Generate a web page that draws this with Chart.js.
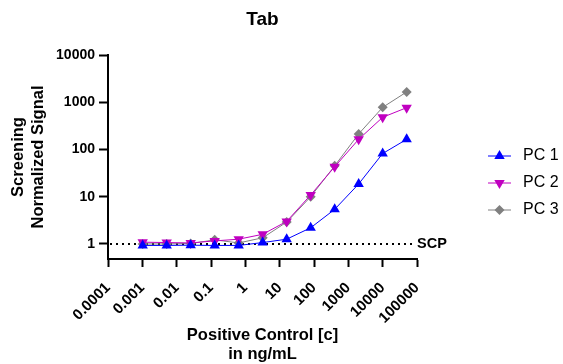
<!DOCTYPE html>
<html><head><meta charset="utf-8">
<script src="https://cdn.jsdelivr.net/npm/chart.js@4.4.1/dist/chart.umd.min.js"></script>
<style>html,body{margin:0;padding:0;background:#fff}canvas{display:block}</style>
</head><body>
<canvas id="c" width="563" height="364"></canvas>
<script>
const doses = [0.001024, 0.00512, 0.0256, 0.128, 0.64, 3.2, 16, 80, 400, 2000, 10000, 50000];
const pc1 = [0.93, 0.93, 0.94, 0.93, 0.93, 1.07, 1.26, 2.2, 5.4, 18.6, 82, 164];
const pc2 = [1.09, 1.07, 1.05, 1.16, 1.26, 1.6, 3.0, 10.9, 43, 164, 480, 767];
const pc3 = [1.0, 1.0, 1.02, 1.22, 1.05, 1.35, 2.9, 10, 45, 213, 780, 1650];
const seriesNames = ['PC 1', 'PC 2', 'PC 3'];
const xTicks = [0.0001, 0.001, 0.01, 0.1, 1, 10, 100, 1000, 10000, 100000];
const yTicks = [1, 10, 100, 1000, 10000];
const scpValue = 1;
const scpLabel = 'SCP';
const titleText = 'Tab';
const xTitle = ['Positive Control [c]', 'in ng/mL'];
const yTitle = ['Screening', 'Normalized Signal'];

const FONT = "'Liberation Sans', Arial, sans-serif";
const styles = [
  {color: '#0000FF', pointStyle: 'triangle', rotation: 0, radius: 6},
  {color: '#C000C0', pointStyle: 'triangle', rotation: 180, radius: 6},
  {color: '#808080', pointStyle: 'rectRot', rotation: 0, radius: 5}
];
const seriesValues = [pc1, pc2, pc3];

const datasets = seriesValues.map((vals, i) => ({
  label: seriesNames[i],
  data: doses.map((d, j) => ({x: d, y: vals[j]})),
  showLine: true,
  borderColor: styles[i].color,
  backgroundColor: styles[i].color,
  borderWidth: 1,
  pointStyle: styles[i].pointStyle,
  pointRotation: styles[i].rotation,
  pointRadius: styles[i].radius,
  pointHoverRadius: styles[i].radius,
  pointBorderWidth: 0,
  tension: 0
}));

const custom = {
  id: 'custom',
  beforeDatasetsDraw(chart) {
    const ctx = chart.ctx, a = chart.chartArea;
    const y = chart.scales.y.getPixelForValue(scpValue);
    ctx.save();
    ctx.strokeStyle = '#000';
    ctx.lineWidth = 2;
    ctx.setLineDash([2, 4]);
    ctx.beginPath();
    ctx.moveTo(a.left + 2, y);
    ctx.lineTo(a.right - 4, y);
    ctx.stroke();
    ctx.restore();
  },
  afterDraw(chart) {
    const ctx = chart.ctx, a = chart.chartArea;
    ctx.save();
    ctx.fillStyle = '#000';
    ctx.font = "bold 19px " + FONT;
    ctx.textAlign = 'center';
    ctx.textBaseline = 'middle';
    ctx.fillText(titleText, (a.left + a.right) / 2, 20);
    const y = chart.scales.y.getPixelForValue(scpValue);
    ctx.font = "bold 14.5px " + FONT;
    ctx.textAlign = 'left';
    ctx.fillText(scpLabel, a.right, y);
    chart.data.datasets.forEach((ds, i) => {
      const ly = 156 + i * 27;
      ctx.strokeStyle = ds.borderColor;
      ctx.fillStyle = ds.backgroundColor;
      ctx.lineWidth = 1;
      ctx.setLineDash([]);
      ctx.beginPath();
      ctx.moveTo(488, ly);
      ctx.lineTo(511, ly);
      ctx.stroke();
      Chart.helpers.drawPoint(ctx, {pointStyle: ds.pointStyle, rotation: ds.pointRotation, radius: ds.pointRadius, borderWidth: 0}, 499.5, ly);
      ctx.fillStyle = '#000';
      ctx.font = "16px " + FONT;
      ctx.textAlign = 'left';
      ctx.textBaseline = 'middle';
      ctx.fillText(ds.label, 523, ly);
    });
    ctx.restore();
  }
};

new Chart(document.getElementById('c'), {
  type: 'scatter',
  data: {datasets},
  options: {
    responsive: false,
    animation: false,
    devicePixelRatio: 1,
    layout: {padding: {left: 0, right: 146, top: 55, bottom: 0}},
    plugins: {legend: {display: false}, title: {display: false}, tooltip: {enabled: false}},
    scales: {
      x: {
        type: 'logarithmic',
        min: 0.0001, max: 100000,
        afterBuildTicks: s => { s.ticks = xTicks.map(v => ({value: v})); },
        afterFit: s => { s.height = 105; },
        ticks: {
          autoSkip: false, maxRotation: 45, minRotation: 45, padding: 12,
          color: '#000', font: {family: FONT, size: 15, weight: 'bold'},
          callback: v => String(v)
        },
        grid: {drawOnChartArea: false, drawTicks: true, tickLength: 8, tickWidth: 2, tickColor: '#000', color: '#000'},
        border: {display: true, color: '#000', width: 2},
        title: {display: true, text: xTitle, color: '#000', font: {family: FONT, size: 16.5, weight: 'bold', lineHeight: 1.15}, padding: {top: 0, bottom: 0}}
      },
      y: {
        type: 'logarithmic',
        min: 0.48, max: 10000,
        afterBuildTicks: s => { s.ticks = yTicks.map(v => ({value: v})); },
        afterFit: s => { s.width = 108; },
        ticks: {
          autoSkip: false, padding: 4,
          color: '#000', font: {family: FONT, size: 14, weight: 'bold'},
          callback: v => String(v)
        },
        grid: {drawOnChartArea: false, drawTicks: true, tickLength: 9, tickWidth: 2, tickColor: '#000', color: '#000'},
        border: {display: true, color: '#000', width: 2},
        title: {display: true, text: yTitle, color: '#000', font: {family: FONT, size: 16.5, weight: 'bold', lineHeight: 1.27}, padding: {top: 7.5, bottom: 0}}
      }
    }
  },
  plugins: [custom]
});
</script>
</body></html>
